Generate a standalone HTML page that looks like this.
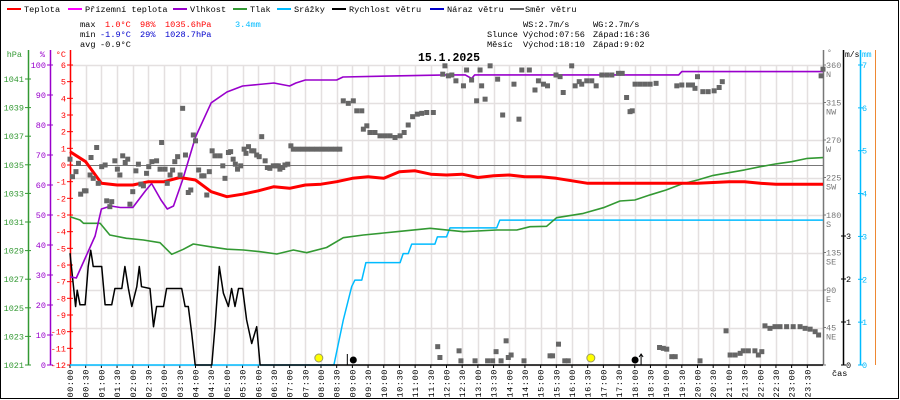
<!DOCTYPE html>
<html><head><meta charset="utf-8">
<style>
html,body{margin:0;padding:0;background:#fff;}
svg{display:block;font-family:"Liberation Mono",monospace;}
</style></head>
<body>
<svg id="chart" width="900" height="400" viewBox="0 0 900 400" xmlns="http://www.w3.org/2000/svg">
<rect x="0.5" y="0.5" width="898" height="398" fill="#fff" stroke="#000"/>
<g id="grid"></g>
<g font-size="8.6" fill="#000">
 <g><rect x="7" y="8" width="14" height="2" fill="#f00"/><text x="24" y="12">Teplota</text></g>
 <g><rect x="68" y="8" width="14" height="2" fill="#f0f"/><text x="85" y="12">Přízemní teplota</text></g>
 <g><rect x="173" y="8" width="14" height="2" fill="#90c"/><text x="190" y="12">Vlhkost</text></g>
 <g><rect x="233" y="8" width="14" height="2" fill="#393"/><text x="250" y="12">Tlak</text></g>
 <g><rect x="277" y="8" width="14" height="2" fill="#0bf"/><text x="294" y="12">Srážky</text></g>
 <g><rect x="332" y="8" width="14" height="2" fill="#000"/><text x="349" y="12">Rychlost větru</text></g>
 <g><rect x="430" y="8" width="14" height="2" fill="#00c"/><text x="447" y="12">Náraz větru</text></g>
 <g><rect x="510" y="8" width="14" height="2" fill="#666"/><text x="525" y="12">Směr větru</text></g>
</g>
<g font-size="8.6">
 <text x="80" y="27" fill="#000">max</text><text x="105" y="27" fill="#f00">1.0°C</text><text x="140" y="27" fill="#f00">98%</text><text x="165" y="27" fill="#f00">1035.6hPa</text><text x="235" y="27" fill="#0bf">3.4mm</text>
 <text x="80" y="37" fill="#000">min</text><text x="100" y="37" fill="#00c">-1.9°C</text><text x="140" y="37" fill="#00c">29%</text><text x="165" y="37" fill="#00c">1028.7hPa</text>
 <text x="80" y="47" fill="#000">avg</text><text x="100" y="47" fill="#000">-0.9°C</text>
 <text x="523" y="27" fill="#000">WS:2.7m/s</text><text x="593" y="27" fill="#000">WG:2.7m/s</text>
 <text x="487" y="37" fill="#000">Slunce</text><text x="523" y="37" fill="#000">Východ:07:56</text><text x="593" y="37" fill="#000">Západ:16:36</text>
 <text x="487" y="47" fill="#000">Měsíc</text><text x="523" y="47" fill="#000">Východ:18:10</text><text x="593" y="47" fill="#000">Západ:9:02</text>
</g>
<text x="449" y="61" font-size="11.5" font-weight="bold" text-anchor="middle">15.1.2025</text>
<g id="axes"></g>
<g id="series"></g>
</svg>
<script>
// ---- data ----
const tempTimes=[0,0.5,1,1.5,2,2.5,3,3.5,4,4.5,5,5.5,6,6.5,7,7.5,8,8.5,9,9.5,10,10.5,11,11.5,12,12.5,13,13.5,14,14.5,15,15.5,16,16.5,17,17.5,18,18.5,19,19.5,20,20.5,21,21.5,22,22.5,23,23.5,24];
const tempValues=[0.8,0.2,-1.1,-1.2,-1.2,-1.0,-1.0,-0.75,-0.9,-1.6,-1.9,-1.75,-1.55,-1.3,-1.4,-1.2,-1.15,-1.0,-0.8,-0.7,-0.8,-0.4,-0.35,-0.55,-0.6,-0.55,-0.75,-0.65,-0.6,-0.7,-0.7,-0.8,-0.95,-1.1,-1.1,-1.1,-1.1,-1.1,-1.1,-1.1,-1.1,-1.05,-1.0,-1.0,-1.1,-1.15,-1.15,-1.15,-1.15];
const humTimes=[0,0.2,0.5,0.8,1.0,1.3,1.6,2.0,2.4,2.6,2.9,3.1,3.3,3.6,4,4.5,5,5.5,6,6.5,7,7.2,7.5,8.5,8.7,12,12.6,12.8,12.9,19.4,19.5,24];
const humValues=[29.4,29,36,43,52,53,52.5,52.5,58,60.5,55,52,53,62,76,87.4,91,93,93.5,94,93,94,95,95,96,96.7,96.7,95.5,96.7,96.7,97.8,97.8];
const presTimes=[0,0.32,0.43,0.96,1.27,1.8,2.34,2.87,3.24,3.61,3.93,4.46,5.0,5.53,6.06,6.59,7.12,7.54,8.18,8.71,9.35,10.41,11.48,12.54,13.6,14.24,14.66,15.19,15.51,16.36,17.0,17.53,18,18.5,19,19.5,20,20.5,21,21.5,22,22.5,23,23.5,24];
const presValues=[1031.37,1031.14,1030.91,1030.91,1030.09,1029.86,1029.74,1029.55,1028.74,1029.09,1029.46,1029.27,1029.1,1029.04,1028.92,1028.76,1029.04,1028.85,1029.22,1029.9,1030.09,1030.32,1030.56,1030.32,1030.44,1030.44,1030.67,1030.7,1031.3,1031.6,1032.0,1032.47,1032.54,1032.9,1033.24,1033.66,1033.94,1034.26,1034.45,1034.64,1034.87,1035.06,1035.22,1035.45,1035.5];
const rainTimes=[0,8.41,8.71,8.98,9.08,9.3,9.43,10.52,10.62,10.78,10.89,11.63,11.71,12.0,12.11,13.6,13.7,24];
const rainValues=[0,0,1.05,1.83,1.98,1.98,2.39,2.39,2.6,2.6,2.82,2.82,2.99,2.99,3.2,3.2,3.38,3.38];
const windTimes=[0,0.11,0.18,0.23,0.32,0.48,0.53,0.58,0.66,0.71,0.74,1.01,1.12,1.33,1.43,1.65,1.75,1.86,1.97,2.13,2.21,2.28,2.55,2.66,2.76,2.98,3.08,3.56,3.67,3.77,3.88,3.99,4.52,4.62,4.76,4.89,5.05,5.15,5.26,5.37,5.5,5.63,5.79,5.95,6.06,24];
const windValues=[2.6,1.82,1.36,1.74,1.4,1.4,1.82,2.29,2.67,2.44,2.29,2.29,1.4,1.4,1.78,1.78,2.29,1.78,1.36,1.82,2.29,1.82,1.78,0.89,1.36,1.36,1.78,1.78,1.36,1.36,0.74,0,0,0.89,2.29,1.67,1.36,1.78,1.36,1.78,1.78,1.05,0.5,0.89,0,0];
const dirTimes=[0,0.08,0.19,0.27,0.34,0.46,0.51,0.64,0.67,0.74,0.85,0.9,1.01,1.12,1.17,1.27,1.33,1.43,1.51,1.59,1.68,1.76,1.84,1.91,2.0,2.1,2.18,2.26,2.34,2.44,2.51,2.61,2.76,2.87,2.92,3.03,3.1,3.19,3.27,3.34,3.43,3.51,3.59,3.68,3.77,3.85,3.93,4.0,4.1,4.2,4.27,4.36,4.44,4.53,4.62,4.78,4.87,4.94,5.05,5.12,5.2,5.27,5.34,5.44,5.55,5.61,5.69,5.79,5.86,5.95,6.03,6.11,6.22,6.29,6.37,6.48,6.57,6.64,6.69,6.78,6.85,6.94,7.04,7.12,7.27,7.42,7.57,7.72,7.87,8.02,8.17,8.32,8.47,8.6,8.71,8.87,9.03,9.14,9.3,9.35,9.46,9.56,9.72,9.88,10.04,10.2,10.36,10.52,10.65,10.78,10.92,11.07,11.21,11.37,11.58,11.88,11.95,12.06,12.17,12.3,12.54,12.64,12.8,12.96,13.07,13.12,13.23,13.39,13.63,13.79,14.15,14.31,14.4,14.64,14.82,14.93,15.09,15.22,15.49,15.62,15.72,15.99,16.1,16.23,16.31,16.47,16.63,16.77,16.95,17.11,17.27,17.48,17.6,17.74,17.85,17.92,18.01,18.17,18.33,18.49,18.68,19.34,19.5,19.71,19.84,19.92,20.0,20.17,20.34,20.53,20.69,20.79,23.94,24.0,11.72,11.79,12.4,12.46,12.91,13.31,13.47,13.58,13.74,13.9,13.97,14.06,14.47,15.3,15.38,15.57,15.77,15.88,18.79,18.91,19.02,19.18,19.29,20.08,20.91,21.04,21.2,21.36,21.46,21.62,21.83,21.94,22.05,22.15,22.31,22.47,22.63,22.84,23.05,23.27,23.43,23.59,23.75,23.86];
const dirValues=[247,226,232,242,205,209,209,228,249,224,261,218,238,240,197,190,196,245,235,228,251,243,247,193,208,233,241,217,215,230,238,244,245,235,267,235,218,228,234,244,250,228,308,252,207,210,276,269,234,227,227,204,232,257,251,251,239,224,255,256,247,241,235,239,259,254,262,257,257,252,250,274,245,237,236,239,239,239,235,237,240,241,263,259,259,259,259,259,259,259,259,259,259,259,317,314,317,305,305,283,287,279,279,275,275,275,273,275,279,288,298,301,302,303,303,349,359,347,348,341,335,354,342,317,354,335,319,359,343,300,337,295,354,354,330,341,337,335,348,346,327,359,335,340,337,341,341,335,348,348,348,350,350,321,304,305,337,337,337,337,338,335,336,336,336,332,346,328,328,329,333,340,347,355,22,9,17,5,5,5,5,16,5,29,9,12,5,11,11,25,5,5,21,20,19,10,10,5,41,12,12,14,17,17,17,12,16,47,44,46,46,46,46,46,44,43,40,36];
const timeLabels=["00:00","00:30","01:00","01:30","02:00","02:30","03:00","03:30","04:00","04:30","05:00","05:30","06:00","06:30","07:00","07:30","08:00","08:30","09:00","09:30","10:00","10:30","11:00","11:30","12:00","12:30","13:00","13:30","14:00","14:30","15:00","15:30","16:00","16:30","17:00","17:30","18:00","18:30","19:00","19:30","20:00","20:30","21:00","21:30","22:00","22:30","23:00","23:30"];
const hpaTicks=[1021,1023,1025,1027,1029,1031,1033,1035,1037,1039,1041];
const humTicks=[0,10,20,30,40,50,60,70,80,90,100];
const tempTicks=[-12,-11,-10,-9,-8,-7,-6,-5,-4,-3,-2,-1,0,1,2,3,4,5,6];
const dirTicks=[0,45,90,135,180,225,270,315,360];
const dirNames=["","NE","E","SE","S","SW","W","NW","N"];
const windTicks=[0,1,2,3];
const rainTicks=[0,1,2,3,4,5,6,7];
const sunEvents=[7.93,16.6];
const moonRise=[18.17];
const moonSet=[9.03];

// ---- scales ----
const X0=70,X1=823,Y0=365,Y1=65;
const xT=t=>X0+t*(X1-X0)/24;
const yTemp=v=>Y0-(v+12)*(Y0-Y1)/18;
const yHum=v=>Y0-v*(Y0-Y1)/100;
const yPres=v=>Y0-(v-1021)*14.3;
const yDir=v=>Y0-v*(Y0-Y1)/360;
const yWind=v=>Y0-v*43;
const yRain=v=>Y0-v*(Y0-Y1)/7;
const NS="http://www.w3.org/2000/svg";
function mk(tag,attrs,parent){const e=document.createElementNS(NS,tag);for(const k in attrs)e.setAttribute(k,attrs[k]);parent.appendChild(e);return e;}
const grid=document.getElementById('grid'),axes=document.getElementById('axes'),series=document.getElementById('series');

// grid
timeLabels.forEach((l,i)=>{const x=Math.round(xT(i*0.5))+0.5;const g=mk('line',{x1:x,x2:x,y1:Y1,y2:Y0,stroke:'#e4e0e0','stroke-width':1.5},grid);
});
dirTicks.forEach(d=>{const y=Math.round(yDir(d))+0.5;const g=mk('line',{x1:X0,x2:X1,y1:y,y2:y,stroke:'#e4e0e0','stroke-width':1.5},grid);
});
const zl=mk('line',{x1:X0,x2:X1,y1:yTemp(0)+0.5,y2:yTemp(0)+0.5,stroke:'#777'},grid);


// left axes
function vaxis(x,color,ticks,yf,name,unit,unitX){
 const a=mk('line',{x1:x+0.5,x2:x+0.5,y1:50,y2:Y0,stroke:color,'stroke-width':1.5},axes);
 
 ticks.forEach(v=>{const y=yf(v);mk('line',{x1:x-3,x2:x+3,y1:y,y2:y,stroke:color},axes);
  const t=mk('text',{x:x-4,y:y+3,'font-size':8.5,fill:color,'text-anchor':'end'},axes);t.textContent=v;
  });
 const u=mk('text',{x:unitX,y:57,'font-size':8.5,fill:color,'text-anchor':'end'},axes);u.textContent=unit;
 
}
vaxis(28,'#393',hpaTicks,yPres,'pressure','hPa',22);
vaxis(50,'#90c',humTicks,yHum,'humidity','%',45);
vaxis(70,'#f00',tempTicks,yTemp,'temperature','°C',66);

// right axes
const da=mk('line',{x1:X1+0.5,x2:X1+0.5,y1:50,y2:Y0,stroke:'#777','stroke-width':1.5},axes);

dirTicks.forEach((d,i)=>{const y=yDir(d);mk('line',{x1:X1,x2:X1+3,y1:y,y2:y,stroke:'#777'},axes);
 if(d>0){const t=mk('text',{x:X1+3,y:y+3,'font-size':8.5,fill:'#777'},axes);t.textContent=d;
 
 const n=mk('text',{x:X1+3,y:y+12,'font-size':8.5,fill:'#777'},axes);n.textContent=dirNames[i];
 }});
const dg=mk('text',{x:X1+4,y:55,'font-size':8,fill:'#777'},axes);dg.textContent='°';
const wa=mk('line',{x1:843.5,x2:843.5,y1:50,y2:Y0,stroke:'#000','stroke-width':1.5},axes);

windTicks.forEach(v=>{const y=yWind(v);mk('line',{x1:841,x2:846,y1:y,y2:y,stroke:'#000'},axes);
 const t=mk('text',{x:846,y:y+3,'font-size':8.5,fill:'#000'},axes);t.textContent=v;
 });
const ms=mk('text',{x:845,y:57,'font-size':8,fill:'#000'},axes);ms.textContent='m/s';
const ra=mk('line',{x1:860.5,x2:860.5,y1:50,y2:Y0,stroke:'#0bf','stroke-width':1.5},axes);

rainTicks.forEach(v=>{const y=yRain(v);mk('line',{x1:858,x2:863,y1:y,y2:y,stroke:'#0bf'},axes);
 const t=mk('text',{x:862,y:y+3,'font-size':8.5,fill:'#0bf'},axes);t.textContent=v;
 });
const mm=mk('text',{x:862,y:57,'font-size':8,fill:'#0bf'},axes);mm.textContent='mm';
mk('line',{x1:875.5,x2:875.5,y1:50,y2:Y0,stroke:'#e83','stroke-width':1},axes);
const cas=mk('text',{x:832,y:376,'font-size':8.5,fill:'#000'},axes);cas.textContent='čas';


// time labels
timeLabels.forEach((l,i)=>{const x=xT(i*0.5);mk('line',{x1:x,x2:x,y1:Y0,y2:Y0+3,stroke:'#000'},axes);
 const t=mk('text',{x:0,y:0,'font-size':8.5,fill:'#000','text-anchor':'end',transform:`translate(${x+3},369) rotate(-90)`,'letter-spacing':'0.6'},axes);
 t.textContent=l;});

// series
function line(ts,vs,yf,color,w,name){const pts=ts.map((t,i)=>xT(t).toFixed(1)+','+yf(vs[i]).toFixed(1)).join(' ');
 const p=mk('polyline',{points:pts,fill:'none',stroke:color,'stroke-width':w,'stroke-linejoin':'round'},series);
 }
line(rainTimes,rainValues,yRain,'#0bf',1.5,'rain-line');
line(windTimes,windValues,yWind,'#000',1.5,'wind-speed-line');
line(presTimes,presValues,yPres,'#393',1.6,'pressure-line');
line(humTimes,humValues,yHum,'#90c',1.6,'humidity-line');
line(tempTimes,tempValues,yTemp,'#f00',3,'temperature-line');
dirTimes.forEach((t,i)=>{const r=mk('rect',{x:xT(t)-2.5,y:yDir(dirValues[i])-2.5,width:5,height:5,fill:'#666'},series);
 });
sunEvents.forEach(t=>{const c=mk('circle',{cx:xT(t),cy:358,r:4,fill:'#ff0',stroke:'#996'},series);
 });
moonSet.forEach(t=>{mk('line',{x1:xT(t)-6,x2:xT(t)-6,y1:354,y2:365,stroke:'#000'},series);
 const c=mk('circle',{cx:xT(t),cy:360,r:3.5,fill:'#000'},series);
 });
moonRise.forEach(t=>{const c=mk('circle',{cx:xT(t)-5,cy:360,r:3.5,fill:'#000'},series);
 
 mk('line',{x1:xT(t)+1,x2:xT(t)+1,y1:354,y2:365,stroke:'#000'},series);
 mk('path',{d:`M${xT(t)-1},357 L${xT(t)+1},354 L${xT(t)+3},357`,fill:'none',stroke:'#000'},series);});
</script>
</body></html>
